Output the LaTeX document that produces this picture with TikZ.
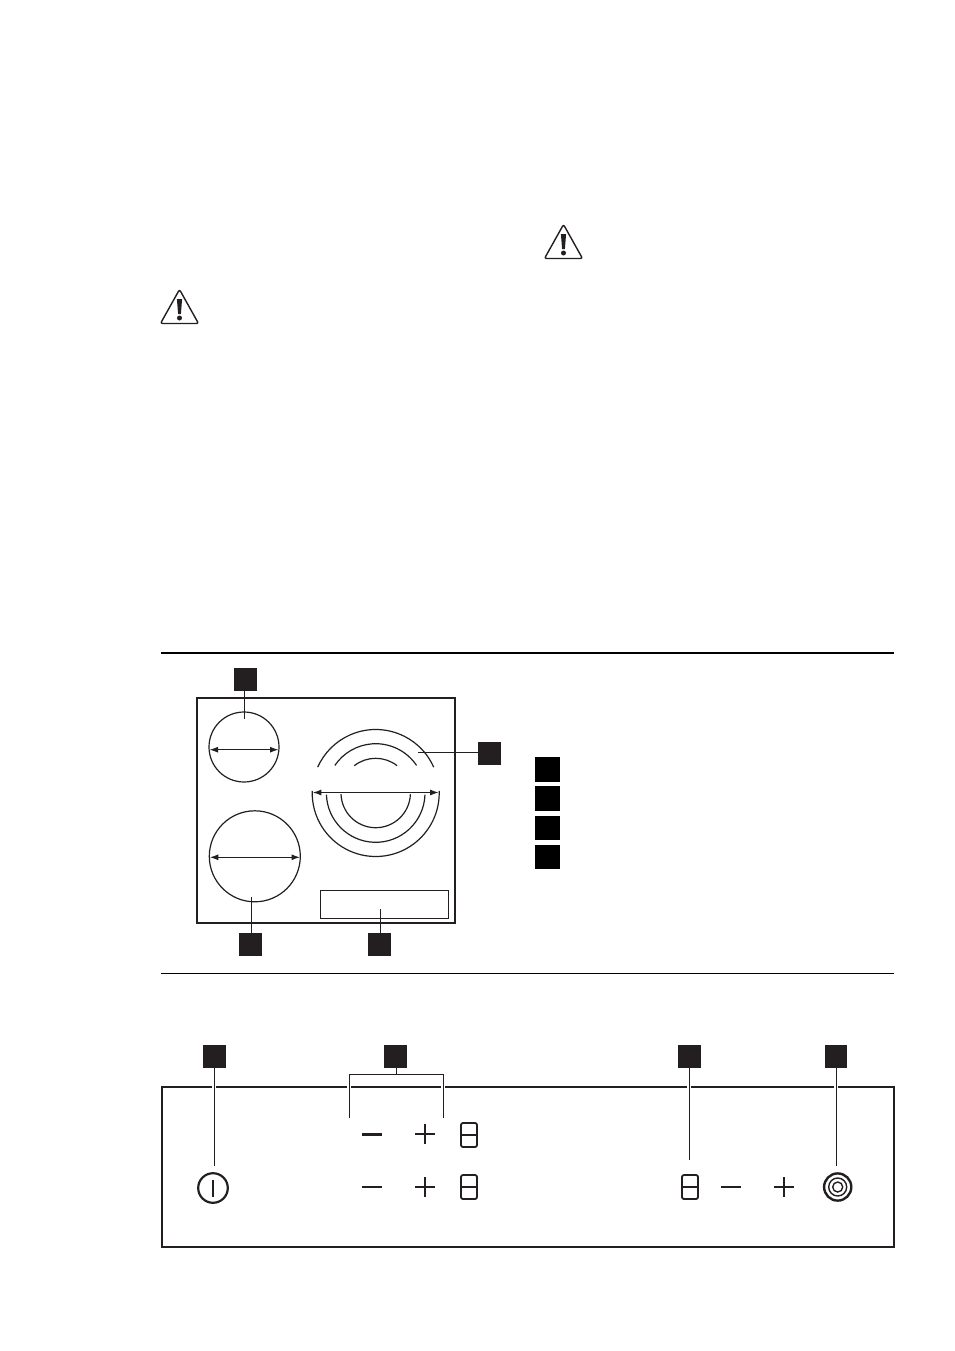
\documentclass[tikz,border=0pt]{standalone}
\usepackage{xcolor}
\usetikzlibrary{arrows.meta}

\definecolor{inkblack}{HTML}{231F20}

\tikzset{
  tag/.style={fill=inkblack,draw=none,minimum size=23pt,inner sep=0pt,outer sep=0pt},
  legendtag/.style={fill=black,draw=none,minimum width=24.5pt,minimum height=24.5pt,inner sep=0pt,outer sep=0pt},
  frame/.style={draw=inkblack,line width=2.2pt},
  thin line/.style={draw=inkblack,line width=1.2pt},
  zone/.style={circle,draw=inkblack,line width=1.2pt,inner sep=0pt,outer sep=0pt},
  width arrow/.style={inkblack,line width=1.1pt,{Latex[length=8.5pt,width=6pt]}-{Latex[length=8.5pt,width=6pt]}},
  halo/.style={white,line width=4pt},
  key line/.style={draw=inkblack,line width=2pt},
  digit/.style={draw=inkblack,line width=1.8pt,rounded corners=2pt}
}

% warning sign, apex at the given point
\newcommand{\warnsign}[2]{
  \draw[inkblack,line width=1.4pt,line join=round,rounded corners=2pt] (#1-19,#2+34) -- (#1,#2) -- (#1+19,#2+34) -- cycle;
  \fill[inkblack] (#1-2.6,#2+9.5) -- (#1+2.6,#2+9.5) -- (#1+1.4,#2+24.5) -- (#1-1.4,#2+24.5) -- cycle;
  \fill[inkblack] (#1,#2+28.5) circle (2.5pt);
}
% seven segment digit, centre given
\newcommand{\digiteight}[2]{
  \draw[digit] (#1-8,#2-12) rectangle (#1+8,#2+12);
  \draw[inkblack,line width=1.8pt] (#1-8,#2) -- (#1+8,#2);
}
\newcommand{\pluskey}[2]{
  \draw[key line] (#1-10,#2) -- (#1+10,#2);
  \draw[key line] (#1,#2-10) -- (#1,#2+10);
}

\begin{document}
\begin{tikzpicture}[x=1pt,y=-1pt]
\useasboundingbox (0,0) rectangle (954,1351);

% warning signs
\warnsign{179.5}{289.5}
\warnsign{563.5}{224.5}

% rules
\draw[black,line width=1.6pt] (161,653) -- (894,653);
\draw[black,line width=1pt] (161,973) -- (894,973);

% hob
\draw[frame] (197,698) rectangle (455,923);
\node[zone,minimum size=70pt] (zone1) at (244,747) {};
\node[zone,minimum size=91pt] (zone2) at (254.8,856.3) {};
\draw[thin line] (320.3,890.3) rectangle (448.7,918.3);

% zone arcs
\coordinate (zone3) at (375.7,793);
\draw[thin line] (zone3) ++(-24:63.5) arc (-24:-156:63.5);
\draw[thin line] (zone3) ++(-34:49.3) arc (-34:-146:49.3);
\draw[thin line] (zone3) ++(-52:34.7) arc (-52:-128:34.7);
\draw[thin line] (zone3) ++(-2:63.5) arc (-2:182:63.5);
\draw[thin line] (zone3) ++(2:49.3) arc (2:178:49.3);
\draw[thin line] (zone3) ++(2:34.7) arc (2:178:34.7);

% width arrows
\coordinate (z1l) at (209.5,749.7);
\coordinate (z1r) at (278.5,749.7);
\coordinate (z2l) at (209.8,857.3);
\coordinate (z2r) at (300,857.3);
\coordinate (z3l) at (312.8,792.5);
\coordinate (z3r) at (438.6,792.5);
\draw[width arrow] (z1l) -- (z1r);
\draw[width arrow] (z2l) -- (z2r);
\draw[width arrow] (z3l) -- (z3r);

% hob tags
\node[tag] (t1) at (245.5,679.5) {};
\node[tag] (t2) at (489.5,753.5) {};
\node[tag] (t3) at (250.5,944) {};
\node[tag] (t4) at (379.5,944) {};
\coordinate (e1) at (244.7,718.7);
\coordinate (e2) at (418.3,752.7);
\coordinate (e3) at (251.3,896.7);
\coordinate (e4) at (380.3,909);
\draw[thin line] (t1.south -| e1) -- (e1);
\draw[thin line] (t2.west |- e2) -- (e2);
\draw[thin line] (t3.north -| e3) -- (e3);
\draw[thin line] (t4.north -| e4) -- (e4);

% legend
\node[legendtag] (l1) at (547.3,769.3) {};
\node[legendtag] (l2) at (547.3,798.5) {};
\node[legendtag] (l3) at (547.3,828) {};
\node[legendtag] (l4) at (547.3,857) {};

% control panel
\draw[frame] (162,1087) rectangle (894,1246.7);

\node[tag] (p1) at (214.5,1056.5) {};
\node[tag] (p2) at (395.5,1056.5) {};
\node[tag] (p3) at (689.5,1056.5) {};
\node[tag,minimum width=22pt] (p4) at (836,1056.5) {};
\coordinate (q1) at (214.3,1165.7);
\coordinate (q3) at (689.3,1160);
\coordinate (q4) at (836.3,1165.7);
\coordinate (bl) at (349.3,1117.7);
\coordinate (br) at (443.3,1117.7);
\coordinate (bm) at (396.3,1074.3);

% gaps in the panel edge
\draw[halo] (214.3,1083) -- (214.3,1091);
\draw[halo] (349.3,1083) -- (349.3,1091);
\draw[halo] (443.3,1083) -- (443.3,1091);
\draw[halo] (689.3,1083) -- (689.3,1091);
\draw[halo] (836.3,1083) -- (836.3,1091);

\draw[thin line] (p1.south -| q1) -- (q1);
\draw[thin line] (p3.south -| q3) -- (q3);
\draw[thin line] (p4.south -| q4) -- (q4);
\draw[thin line] (p2.south -| bm) -- (bm);
\draw[thin line] (bl) -- (bl |- bm) -- (br |- bm) -- (br);

% power key
\draw[inkblack,line width=2.2pt] (213,1188) circle (14.8pt);
\draw[inkblack,line width=1.8pt] (213,1180) -- (213,1196.5);

% keys
\draw[inkblack,line width=3.2pt] (362,1134.3) -- (382,1134.3);
\draw[key line] (362,1187) -- (382,1187);
\pluskey{425}{1134.3}
\pluskey{425}{1187}
\digiteight{469}{1135}
\digiteight{469}{1187}
\digiteight{690}{1187}
\draw[key line] (721,1187) -- (741,1187);
\pluskey{784}{1187}

% bridge key
\draw[inkblack,line width=2.4pt] (837.7,1187) circle (13.6pt);
\draw[inkblack,line width=1.4pt] (837.7,1187) circle (9pt);
\draw[inkblack,line width=1.4pt] (837.7,1187) circle (5pt);

\end{tikzpicture}
\end{document}
